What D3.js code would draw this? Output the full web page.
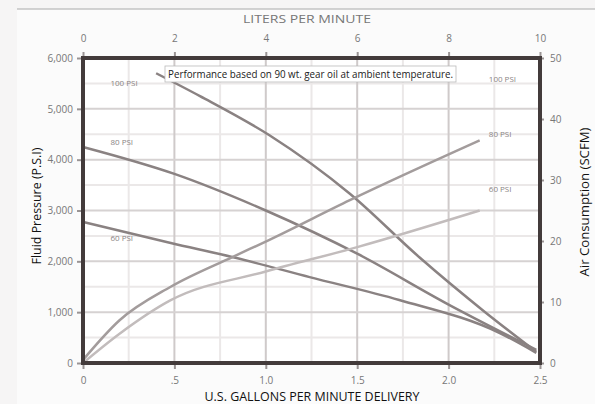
<!DOCTYPE html>
<html><head><meta charset="utf-8">
<script src="https://cdn.jsdelivr.net/npm/d3@7"></script>
<style>body{margin:0;background:#fff}svg{display:block}text{font-family:"Open Sans",sans-serif}</style>
</head><body><svg id="c" width="595" height="404"></svg>
<script>
// ---- data ----
const gpmTicks = [0, 0.5, 1.0, 1.5, 2.0, 2.5];
const gpmLabels = ["0", ".5", "1.0", "1.5", "2.0", "2.5"];
const lpmTicks = [0, 2, 4, 6, 8, 10];
const psiTicks = [0, 1000, 2000, 3000, 4000, 5000, 6000];
const scfmTicks = [0, 10, 20, 30, 40, 50];

const gpmA = [0.40, 0.64, 1.02, 1.46, 1.84, 2.20, 2.48];
const psiA = [5700, 5250, 4480, 3330, 2080, 1000, 220];
const gpmB = [0, 0.50, 1.00, 1.50, 2.00, 2.48];
const psiB = [4250, 3720, 3000, 2150, 1150, 260];
const gpmC = [0, 0.48, 0.84, 1.24, 1.73, 2.28, 2.48];
const psiC = [2775, 2360, 2065, 1690, 1240, 590, 200];

const gpmD = [0, 0.20, 0.48, 0.82, 1.02, 1.46, 2.17];
const scfmD = [0.5, 7, 12.5, 17.4, 20.2, 26.7, 36.5];
const gpmE = [0, 0.20, 0.48, 1.00, 1.50, 2.17];
const scfmE = [0, 4.8, 10.3, 15, 19, 25];

const leftLabels = ["100 PSI", "80 PSI", "60 PSI"];
const leftLabelPsi = [5450, 4280, 2400];
const rightLabels = ["100 PSI", "80 PSI", "60 PSI"];
const rightLabelScfm = [46, 37, 28];

// ---- layout ----
const svg = d3.select("#c");
const L = 83, R = 540, T = 58, B = 363;
const x = d3.scaleLinear().domain([0, 2.5]).range([L, R]);
const xTop = d3.scaleLinear().domain([0, 10]).range([L, R]);
const y = d3.scaleLinear().domain([0, 6000]).range([B, T]);
const y2 = d3.scaleLinear().domain([0, 50]).range([B, T]);

svg.append("rect").attr("width", 595).attr("height", 404).attr("fill", "#f6f5f5");
svg.append("rect").attr("x", 17).attr("y", 9).attr("width", 578).attr("height", 395).attr("fill", "#fbfbfb");
svg.append("line").attr("x1", 17).attr("x2", 595).attr("y1", 9).attr("y2", 9).attr("stroke", "#aaa").attr("stroke-width", 1);
svg.append("rect").attr("x", L).attr("y", T).attr("width", R - L).attr("height", B - T).attr("fill", "#fff");

// minor grid
const g = svg.append("g");
g.selectAll(".mx").data(d3.range(0.25, 2.5, 0.5)).join("line")
  .attr("x1", d => x(d)).attr("x2", d => x(d)).attr("y1", T).attr("y2", B)
  .attr("stroke", "#ebe8e8").attr("stroke-width", 2);
g.selectAll(".my").data(d3.range(500, 6000, 1000)).join("line")
  .attr("x1", L).attr("x2", R).attr("y1", d => y(d)).attr("y2", d => y(d))
  .attr("stroke", "#ebe8e8").attr("stroke-width", 2);
// major grid
g.selectAll(".gx").data(gpmTicks.slice(1, -1)).join("line")
  .attr("x1", d => x(d)).attr("x2", d => x(d)).attr("y1", T).attr("y2", B)
  .attr("stroke", "#cfcaca").attr("stroke-width", 2);
g.selectAll(".gy").data(psiTicks.slice(1, -1)).join("line")
  .attr("x1", L).attr("x2", R).attr("y1", d => y(d)).attr("y2", d => y(d))
  .attr("stroke", "#d6d2d2").attr("stroke-width", 2);

// axes
const tickStyle = sel => { sel.select(".domain").remove(); sel.selectAll("line").attr("stroke", "#9a9494").attr("stroke-width", 2); sel.selectAll("text").attr("fill", "#777").attr("font-size", 10); };
svg.append("g").attr("transform", `translate(0,${B})`)
  .call(d3.axisBottom(x).tickValues(gpmTicks).tickFormat((d, i) => gpmLabels[i]).tickSize(6).tickPadding(8)).call(tickStyle);
svg.append("g").attr("transform", `translate(0,${T})`)
  .call(d3.axisTop(xTop).tickValues(lpmTicks).tickSize(6).tickPadding(10)).call(tickStyle);
svg.append("g").attr("transform", `translate(${L},0)`)
  .call(d3.axisLeft(y).tickValues(psiTicks).tickSize(6).tickPadding(4)).call(tickStyle);
svg.append("g").attr("transform", `translate(${R},0)`)
  .call(d3.axisRight(y2).tickValues(scfmTicks).tickSize(4).tickPadding(6)).call(tickStyle);

// lines
const pline = d3.line().x(d => x(d[0])).y(d => y(d[1])).curve(d3.curveMonotoneX);
const aline = d3.line().x(d => x(d[0])).y(d => y2(d[1])).curve(d3.curveMonotoneX);
[[gpmA, psiA], [gpmB, psiB], [gpmC, psiC]].forEach(([gx, py]) => {
  svg.append("path").attr("d", pline(d3.zip(gx, py))).attr("fill", "none").attr("stroke", "#8a8282").attr("stroke-width", 2.5);
});
[[gpmD, scfmD, "#a39c9c"], [gpmE, scfmE, "#c2bcbc"]].forEach(([gx, sy, c]) => {
  svg.append("path").attr("d", aline(d3.zip(gx, sy))).attr("fill", "none").attr("stroke", c).attr("stroke-width", 2.5);
});

// curve labels
svg.selectAll(".ll").data(leftLabels).join("text")
  .attr("x", x(0.15)).attr("y", (d, i) => y(leftLabelPsi[i])).attr("font-size", 8).attr("fill", "#8a8484").text(d => d);
svg.selectAll(".rl").data(rightLabels).join("text")
  .attr("x", x(2.22)).attr("y", (d, i) => y2(rightLabelScfm[i])).attr("font-size", 8).attr("fill", "#8a8484").text(d => d);

// frame
svg.append("rect").attr("x", L).attr("y", T).attr("width", R - L).attr("height", B - T)
  .attr("fill", "none").attr("stroke", "#433b3b").attr("stroke-width", 4);

// note box
const nb = svg.append("g");
nb.append("rect").attr("x", 165).attr("y", 66).attr("width", 291).attr("height", 16).attr("fill", "#fff").attr("stroke", "#bbb").attr("stroke-width", 0.8);
nb.append("text").attr("x", 168).attr("y", 78).attr("font-size", 10.5).attr("fill", "#222")
  .attr("textLength", 285).attr("lengthAdjust", "spacingAndGlyphs")
  .text("Performance based on 90 wt. gear oil at ambient temperature.");

// titles
svg.append("text").attr("x", 312).attr("y", 401).attr("text-anchor", "middle").attr("font-size", 13).attr("fill", "#111")
  .attr("textLength", 215).attr("lengthAdjust", "spacingAndGlyphs").text("U.S. GALLONS PER MINUTE DELIVERY");
svg.append("text").attr("transform", "translate(41,206) rotate(-90)").attr("text-anchor", "middle").attr("font-size", 13).attr("fill", "#111")
  .attr("textLength", 117).attr("lengthAdjust", "spacingAndGlyphs").text("Fluid Pressure (P.S.I)");
svg.append("text").attr("transform", "translate(589,202) rotate(-90)").attr("text-anchor", "middle").attr("font-size", 13).attr("fill", "#111")
  .attr("textLength", 149).attr("lengthAdjust", "spacingAndGlyphs").text("Air Consumption (SCFM)");
svg.append("text").attr("x", 307).attr("y", 23).attr("text-anchor", "middle").attr("font-size", 10).attr("fill", "#777")
  .attr("textLength", 128).attr("lengthAdjust", "spacingAndGlyphs").text("LITERS PER MINUTE");
</script></body></html>
